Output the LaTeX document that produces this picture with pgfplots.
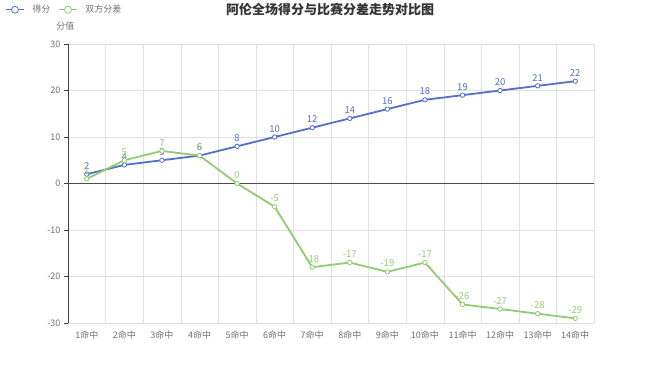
\documentclass[border=0pt]{standalone}
\usepackage{pgfplots}
\pgfplotsset{compat=1.18}
\usepackage{fontspec}
\setmainfont{Noto Sans CJK SC}
\definecolor{cblue}{HTML}{5470C6}
\definecolor{cgreen}{HTML}{91CC75}
\definecolor{txtgray}{HTML}{6E7079}
\begin{document}
\begin{tikzpicture}[x=1pt,y=1pt]
\useasboundingbox (0,0) rectangle (660,367);
\node[font=\fontsize{13}{15}\selectfont\bfseries, text=black!80] at (330,358) {阿伦全场得分与比赛分差走势对比图};
\begin{axis}[
  at={(68pt,44pt)}, anchor=south west,
  scale only axis, width=526pt, height=279pt,
  xmin=0.5, xmax=14.5, ymin=-30, ymax=30,
  xtick={1,...,14},
  xticklabels={1命中,2命中,3命中,4命中,5命中,6命中,7命中,8命中,9命中,10命中,11命中,12命中,13命中,14命中},
  minor xtick={0.5,1.5,...,14.5},
  xminorgrids, minor grid style={draw=black!12},
  ytick={-30,-20,...,30},
  ymajorgrids, major grid style={draw=black!12},
  axis lines*=left,
  x axis line style={draw=black!12, -},
  y axis line style={draw=black!75, line width=0.8pt, -},
  major x tick style={draw=none},
  minor x tick style={draw=none},
  major y tick style={draw=black!75},
  tick align=outside, major tick length=4pt,
  ticklabel style={font=\fontsize{9}{10}\selectfont, text=txtgray},
  /pgf/number format/assume math mode=true,
  ylabel={分值}, ylabel style={rotate=-90, font=\fontsize{9}{10}\selectfont, text=txtgray, at={(axis description cs:-0.005,1.035)}, anchor=south},
  clip=false,
  legend columns=2,
  legend style={at={(axis description cs:-0.125,1.154)}, anchor=north west, draw=none, fill=none,
    font=\fontsize{9}{10}\selectfont, text=txtgray, column sep=6pt},
  legend image code/.code={\draw[#1, mark=none, line width=1pt] (0pt,0pt) -- (18pt,0pt); \draw[#1, mark repeat=1, mark size=3.5pt] plot coordinates {(9pt,0pt)};},
  nodes near coords, every node near coord/.append style={font=\fontsize{9.5}{10}\selectfont, anchor=south, yshift=1pt},
]
\draw[black!70, line width=0.8pt] (axis cs:0.5,0) -- (axis cs:14.5,0);
\addplot[cblue, line width=1.8pt, mark=*, mark size=2.2pt, mark options={fill=white, line width=0.8pt},
  every node near coord/.append style={text=cblue}] coordinates {
(1,2)(2,4)(3,5)(4,6)(5,8)(6,10)(7,12)(8,14)(9,16)(10,18)(11,19)(12,20)(13,21)(14,22)};
\addlegendentry{得分}
\addplot[cgreen, line width=1.8pt, mark=*, mark size=2.2pt, mark options={fill=white, line width=0.8pt},
  every node near coord/.append style={text=cgreen}] coordinates {
(1,1)(2,5)(3,7)(4,6)(5,0)(6,-5)(7,-18)(8,-17)(9,-19)(10,-17)(11,-26)(12,-27)(13,-28)(14,-29)};
\addlegendentry{双方分差}
\end{axis}
\end{tikzpicture}
\end{document}
